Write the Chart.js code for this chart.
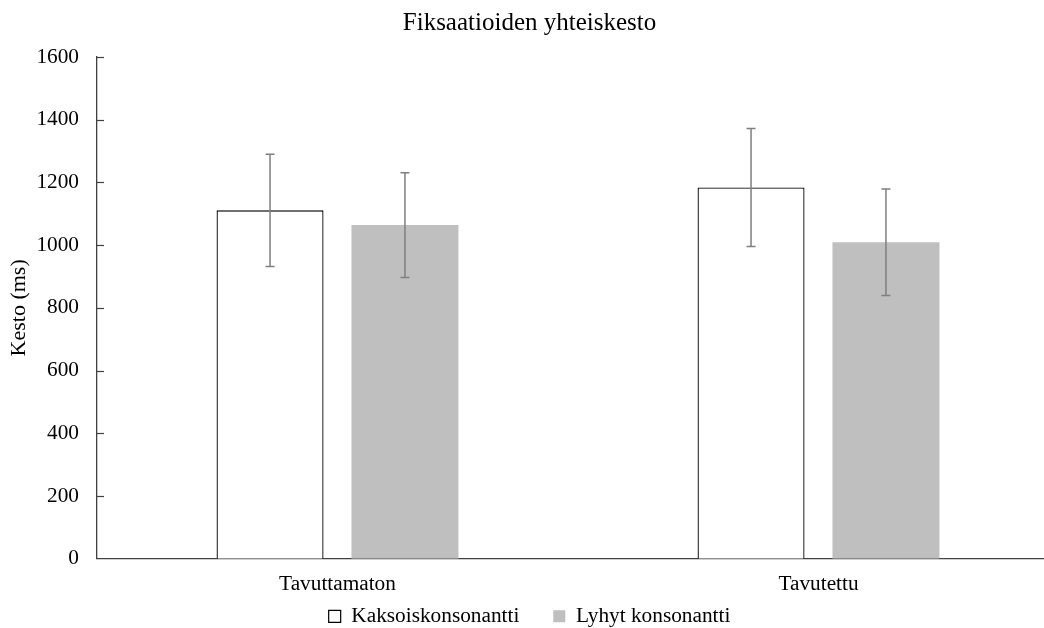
<!DOCTYPE html>
<html>
<head>
<meta charset="utf-8">
<script src="https://cdn.jsdelivr.net/npm/chart.js@4/dist/chart.umd.min.js"></script>
<style>
  html, body { margin: 0; padding: 0; background: #fff; overflow: hidden; }
  #wrap { width: 1062px; height: 628px; }
</style>
</head>
<body>
<div id="wrap"><canvas id="c" width="1062" height="628"></canvas></div>
<script>
const categories = ['Tavuttamaton', 'Tavutettu'];
const seriesNames = ['Kaksoiskonsonantti', 'Lyhyt konsonantti'];
const kaksoisValues = [1111, 1184];
const lyhytValues = [1064, 1009];
const kaksoisErrors = [179, 188];
const lyhytErrors = [167, 170];
const yTicks = [0, 200, 400, 600, 800, 1000, 1200, 1400, 1600];

const FONT = "'Liberation Serif', 'DejaVu Serif', serif";

const errorBarPlugin = {
  id: 'errorBars',
  afterDatasetsDraw(chart) {
    const ctx = chart.ctx;
    const y = chart.scales.y;
    ctx.save();
    ctx.strokeStyle = '#7f7f7f';
    ctx.lineWidth = 1.5;
    chart.data.datasets.forEach((ds, i) => {
      const meta = chart.getDatasetMeta(i);
      meta.data.forEach((bar, j) => {
        const v = ds.data[j];
        const e = ds.errors[j];
        const x = bar.x;
        const yt = y.getPixelForValue(v + e);
        const yb = y.getPixelForValue(v - e);
        ctx.beginPath();
        ctx.moveTo(x, yt); ctx.lineTo(x, yb);
        ctx.moveTo(x - 4.5, yt); ctx.lineTo(x + 4.5, yt);
        ctx.moveTo(x - 4.5, yb); ctx.lineTo(x + 4.5, yb);
        ctx.stroke();
      });
    });
    ctx.restore();
  }
};

const inwardTicksPlugin = {
  id: 'inwardTicks',
  afterDraw(chart) {
    const ctx = chart.ctx;
    const y = chart.scales.y;
    const left = chart.chartArea.left;
    ctx.save();
    ctx.strokeStyle = '#404040';
    ctx.lineWidth = 1.2;
    yTicks.forEach(t => {
      if (t === 0) return;
      const py = Math.round(y.getPixelForValue(t)) + 0.5;
      ctx.beginPath();
      ctx.moveTo(left, py);
      ctx.lineTo(left + 7, py);
      ctx.stroke();
    });
    ctx.restore();
  }
};

new Chart(document.getElementById('c'), {
  type: 'bar',
  data: {
    labels: categories,
    datasets: [
      {
        label: seriesNames[0],
        data: kaksoisValues,
        errors: kaksoisErrors,
        backgroundColor: '#ffffff',
        borderColor: '#000000',
        borderWidth: 1.3,
        categoryPercentage: 0.561,
        barPercentage: 0.793
      },
      {
        label: seriesNames[1],
        data: lyhytValues,
        errors: lyhytErrors,
        backgroundColor: '#bfbfbf',
        borderColor: '#bfbfbf',
        borderWidth: 0,
        categoryPercentage: 0.561,
        barPercentage: 0.793
      }
    ]
  },
  options: {
    responsive: false,
    animation: false,
    layout: { padding: { left: 0, right: 3, top: 5, bottom: -9 } },
    plugins: {
      title: {
        display: true,
        text: 'Fiksaatioiden yhteiskesto',
        color: '#000',
        font: { family: FONT, size: 25, weight: 'normal' },
        padding: { top: 3, bottom: 19 }
      },
      legend: {
        position: 'bottom',
        labels: {
          color: '#000',
          font: { family: FONT, size: 21.3 },
          boxWidth: 12,
          boxHeight: 12,
          padding: 2,
          generateLabels(chart) {
            return chart.data.datasets.map((ds, i) => ({
              text: i === 0 ? ds.label + '      ' : ds.label,
              fillStyle: ds.backgroundColor,
              strokeStyle: i === 0 ? '#000' : ds.backgroundColor,
              lineWidth: i === 0 ? 1.2 : 0,
              datasetIndex: i,
              hidden: false,
              fontColor: '#000'
            }));
          }
        }
      },
      tooltip: { enabled: false }
    },
    scales: {
      x: {
        grid: { display: false, drawTicks: false },
        border: { display: true, color: '#404040', width: 1.3 },
        ticks: { color: '#000', font: { family: FONT, size: 21.3 }, padding: 13 },
        afterFit(scale) { scale.height = 45; }
      },
      y: {
        min: 0,
        max: 1600,
        afterBuildTicks(scale) { scale.ticks = yTicks.map(v => ({ value: v })); },
        grid: { display: false, drawTicks: false },
        border: { display: true, color: '#404040', width: 1.3 },
        ticks: {
          color: '#000',
          font: { family: FONT, size: 21.3 },
          padding: 18,
          callback: (v) => String(v)
        },
        title: {
          display: true,
          text: 'Kesto (ms)',
          color: '#000',
          font: { family: FONT, size: 22 },
          padding: { top: 6, bottom: 4 }
        },
        afterFit(scale) { scale.width = 97; }
      }
    }
  },
  plugins: [errorBarPlugin, inwardTicksPlugin]
});
</script>
</body>
</html>
